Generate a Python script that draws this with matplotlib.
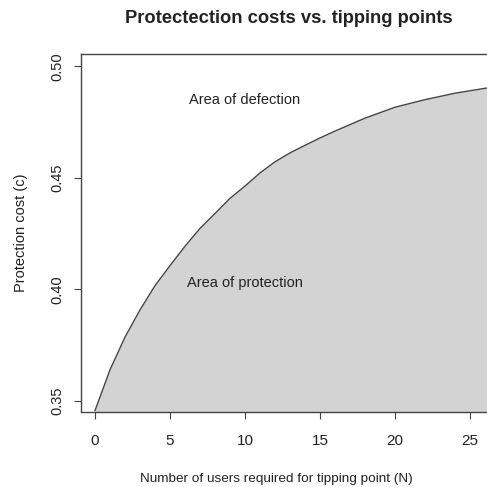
"""Protection cost curve vs. tipping point, R base-graphics look"""

import matplotlib
matplotlib.use("Agg")
import matplotlib.pyplot as plt

plt.rcParams.update({
    "font.family": "Liberation Sans",
    "font.size": 10,
})

# ── data ─────────────────────────────────────────────────────────────────────
n_users = [0, 1, 2, 3, 4, 5, 6, 7, 8, 9, 10, 11, 12, 13, 14, 15, 16, 18,
           20, 22, 24, 26, 27]
cost = [0.3455, 0.3638, 0.3785, 0.3907, 0.4016, 0.4106, 0.4193, 0.4273,
        0.4340, 0.4408, 0.4463, 0.4522, 0.4572, 0.4612, 0.4646, 0.4679,
        0.4710, 0.4768, 0.4817, 0.4851, 0.4880, 0.4902, 0.4912]

x_ticks = [0, 5, 10, 15, 20, 25]
y_ticks = [0.35, 0.40, 0.45, 0.50]
y_tick_labels = ["0.35", "0.40", "0.45", "0.50"]

FILL_COLOR = "#d3d3d3"
INK = "#222222"

W = H = 487
fig = plt.figure(figsize=(W / 100, H / 100), dpi=100)
# plot box runs past the right edge, like the cropped original
ax = fig.add_axes([81 / W, (H - 411.5) / H, (497 - 81) / W, (411.5 - 54) / H])

ymin, ymax = 0.3451, 0.5056
ax.set_xlim(-0.933, 26.8)
ax.set_ylim(ymin, ymax)

ax.fill_between(n_users, cost, ymin, color=FILL_COLOR, linewidth=0, zorder=1)
ax.plot(n_users, cost, color="#444444", linewidth=1.0, zorder=2)

ax.text(10, 0.485, "Area of defection", ha="center", va="center",
        fontsize=10.5, color=INK)
ax.text(10, 0.403, "Area of protection", ha="center", va="center",
        fontsize=10.5, color=INK)

ax.set_xticks(x_ticks)
ax.set_yticks(y_ticks)
ax.set_yticklabels(y_tick_labels, rotation=90, va="center")
ax.tick_params(direction="out", length=5, width=0.8, color="#444444",
               labelcolor=INK)
ax.tick_params(axis="x", pad=11, labelsize=11)
ax.tick_params(axis="y", pad=7, labelsize=10.5)

for sp in ax.spines.values():
    sp.set_color("#444444")
    sp.set_linewidth(1.0)

ax.set_xlabel("Number of users required for tipping point (N)",
              fontsize=9.7, color=INK, va="center")
ax.xaxis.set_label_coords((276 - 81) / (497 - 81), -0.19)
ax.set_ylabel("Protection cost (c)", fontsize=10.5, color=INK, va="center")
ax.yaxis.set_label_coords(-0.145, 0.5)

ax.set_title("Protectection costs vs. tipping points", fontsize=13.2,
             fontweight="bold", color=INK, y=1.098, pad=0, va="center")

fig.savefig("out.png", dpi=100)
